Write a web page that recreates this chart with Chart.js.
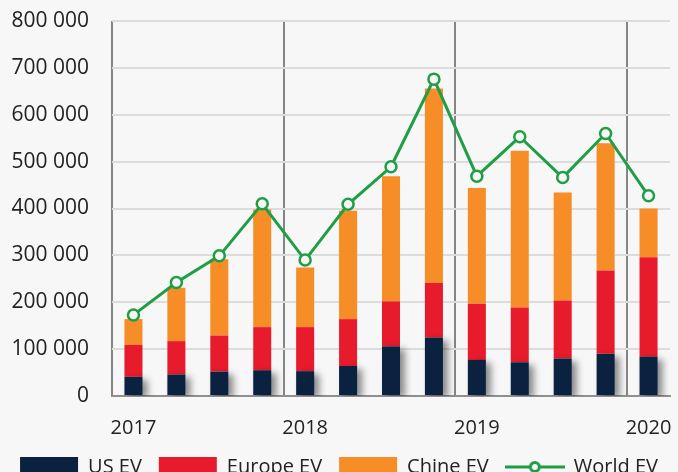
<!DOCTYPE html>
<html>
<head>
<meta charset="utf-8">
<script src="https://cdn.jsdelivr.net/npm/chart.js@4/dist/chart.umd.min.js"></script>
<style>
html,body{margin:0;padding:0;background:#f7f7f7;overflow:hidden;}
#wrap{width:678px;height:487px;position:relative;}
</style>
</head>
<body>
<div id="wrap"><canvas id="c"></canvas></div>
<script>
const quarters = ['2017 Q1','2017 Q2','2017 Q3','2017 Q4','2018 Q1','2018 Q2','2018 Q3','2018 Q4','2019 Q1','2019 Q2','2019 Q3','2019 Q4','2020 Q1'];
const tickLabels = ['2017','','','','2018','','','','2019','','','','2020'];
const usEV = [41000,46000,52000,55000,53000,64000,106000,125000,77000,72000,80000,90000,84000];
const europeEV = [68000,71000,77000,92000,94000,100000,96000,116000,120000,117000,124000,178000,212000];
const chinaEV = [55000,114000,163000,251000,127000,231000,267000,415000,247000,334000,230000,271000,104000];
const worldEV = [173000,242000,299000,410000,290000,409000,489000,676000,469000,553000,466000,560000,427000];
const yTicks = [0,100000,200000,300000,400000,500000,600000,700000,800000];

const FONT = '"Open Sans", sans-serif';

function lineMarker(){
  const c = document.createElement('canvas');
  c.width = 60; c.height = 16;
  const g = c.getContext('2d');
  g.strokeStyle = '#1f9e46'; g.lineWidth = 3;
  g.beginPath(); g.moveTo(0,8); g.lineTo(60,8); g.stroke();
  g.fillStyle = '#f7f7f7';
  g.beginPath(); g.arc(30,8,4.5,0,Math.PI*2); g.fill(); g.stroke();
  return c;
}
const marker = lineMarker();

const shadowPlugin = {
  id: 'barShadow',
  beforeDatasetDraw(chart, args){
    if (args.index === 0){
      const ctx = chart.ctx;
      ctx.save();
      ctx.shadowColor = 'rgba(0,0,0,0.45)';
      ctx.shadowBlur = 7;
      ctx.shadowOffsetX = 5;
      ctx.shadowOffsetY = 3;
    }
  },
  afterDatasetDraw(chart, args){
    if (args.index === 0){ chart.ctx.restore(); }
  }
};

const chart = new Chart(document.getElementById('c'), {
  type: 'bar',
  data: {
    labels: quarters,
    datasets: [
      {label:'US EV', data: usEV, backgroundColor:'#0b2140', stack:'s', order:1},
      {label:'Europe EV', data: europeEV, backgroundColor:'#e81b2d', stack:'s', order:1},
      {label:'Chine EV', data: chinaEV, backgroundColor:'#f68d26', stack:'s', order:1},
      {label:'World EV', data: worldEV, type:'line', borderColor:'#1f9e46', borderWidth:3,
       pointRadius:5.5, pointBorderWidth:2.5, pointBackgroundColor:'#f7f7f7', pointBorderColor:'#1f9e46',
       tension:0, order:-1}
    ]
  },
  options: {
    responsive: true,
    maintainAspectRatio: false,
    animation: false,
    layout: {padding: {left: 0, right: 0, top: 21, bottom: 0}},
    datasets: {bar: {categoryPercentage: 1, barPercentage: 0.42}},
    plugins: {
      tooltip: {enabled:false},
      legend: {
        position: 'bottom',
        labels: {
          font: {family: FONT, size: 20},
          color: '#222',
          usePointStyle: true,
          pointStyleWidth: 58,
          boxHeight: 20,
          padding: 17,
          sort: (a,b) => a.datasetIndex - b.datasetIndex,
          generateLabels(chart){
            const items = Chart.defaults.plugins.legend.labels.generateLabels(chart);
            items.forEach(it => {
              if (it.datasetIndex === 3){ it.pointStyle = marker; }
              else { it.pointStyle = 'rect'; it.lineWidth = 0; it.strokeStyle = it.fillStyle; }
            });
            return items;
          }
        }
      }
    },
    scales: {
      x: {
        stacked: true,
        afterFit: s => { s.paddingLeft = 0; s.paddingRight = 7; s.height = 44; },
        grid: {
          offset: true,
          drawTicks: false,
          lineWidth: 2,
          color: ctx => (ctx.index !== undefined && ctx.index % 4 === 0) ? '#858585' : 'rgba(0,0,0,0)'
        },
        border: {display: true, color: '#8f8f8f', width: 2},
        ticks: {
          autoSkip: false, maxRotation: 0, padding: 20,
          font: {family: FONT, size: 20}, color: '#222',
          callback: (v, i) => tickLabels[i]
        }
      },
      y: {
        stacked: true,
        min: 0, max: 800000,
        afterBuildTicks: scale => { scale.ticks = yTicks.map(v => ({value: v})); },
        afterFit: s => { s.width = 112; s.paddingTop = 0; s.paddingBottom = 0; },
        grid: {drawTicks: false, lineWidth: 2, color: '#dcdcdc'},
        border: {display: false},
        ticks: {
          padding: 23,
          font: {family: FONT, size: 21}, color: '#222',
          callback: v => String(v).replace(/\B(?=(\d{3})+(?!\d))/g, ' ')
        }
      }
    }
  },
  plugins: [shadowPlugin]
});
</script>
</body>
</html>
